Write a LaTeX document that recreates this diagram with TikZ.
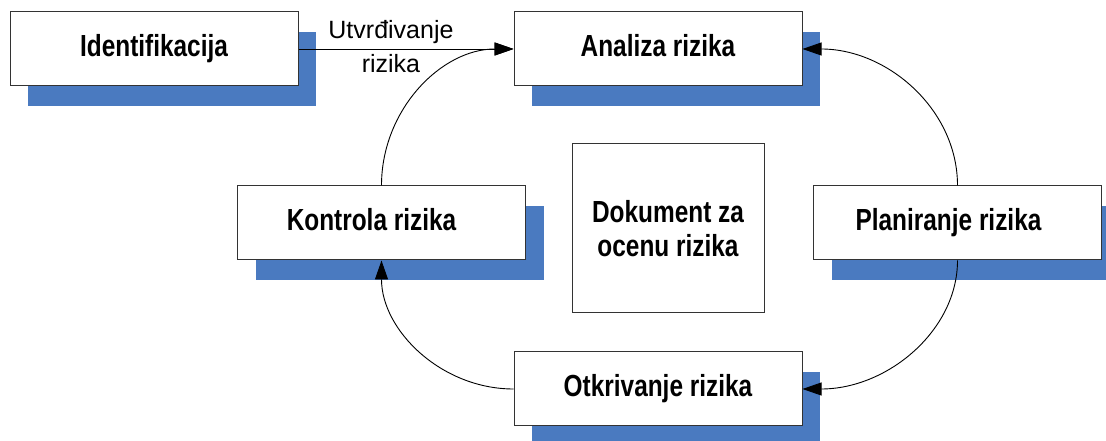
\documentclass[tikz,border=0pt]{standalone}
\usepackage{fontspec}
\setmainfont{Liberation Sans}
\newfontfamily\narrowfont{Liberation Sans}[FakeStretch=0.8]
\usetikzlibrary{positioning,shadows,arrows.meta}
\definecolor{shadowblue}{RGB}{74,122,192}
\tikzset{
  box/.style={draw=black!80, fill=white, line width=1pt, align=center, font=\narrowfont\bfseries\fontsize{30.5pt}{34pt}\selectfont},
  shadow box/.style={box, minimum width=288pt, minimum height=74pt, inner sep=0pt, text height=22pt, text depth=7pt, drop shadow={shadow xshift=18pt, shadow yshift=-20pt, fill=shadowblue, opacity=1}},
  doc box/.style={box, minimum width=192pt, minimum height=169pt, inner sep=0pt},
  flow/.style={-{Triangle[length=19pt,width=13pt]}, line width=0.9pt},
  flow label/.style={align=center, font=\fontsize{25pt}{34pt}\selectfont, inner sep=0pt},
}

\begin{document}
\begin{tikzpicture}[x=1pt,y=1pt]
\useasboundingbox (0,0) rectangle (1106,441);
%the nodes
\node [shadow box] (ident) at (154,392) {Identifikacija};
\node [shadow box,right=215pt of ident] (analiza) {Analiza rizika};
\node [shadow box,below=265pt of analiza] (otkrivanje) {Otkrivanje rizika};
\node [shadow box] (kontrola) at (381.5,218) {Kontrola rizika\hspace*{20pt}};
\node [shadow box] (planiranje) at (957.5,218) {Planiranje rizika\hspace*{18pt}};
\node [doc box] (dokument) at (668,212.5) {Dokument za\\ocenu rizika};
%drawings of vectors
\draw[flow] (ident.east) -- node[flow label,pos=0.43,yshift=2pt] {Utvrđivanje\\rizika} (analiza.west);
\draw[flow] (kontrola.north) .. controls +(up:76) and +(left:72) .. (analiza.west);
\draw[flow] (planiranje.north) .. controls +(up:76) and +(right:85) .. (analiza.east);
\draw[flow] (planiranje.south) .. controls +(down:70) and +(right:85) .. (otkrivanje.east);
\draw[flow] (otkrivanje.west) .. controls +(left:72) and +(down:70) .. (kontrola.south);
\end{tikzpicture}
\end{document}
